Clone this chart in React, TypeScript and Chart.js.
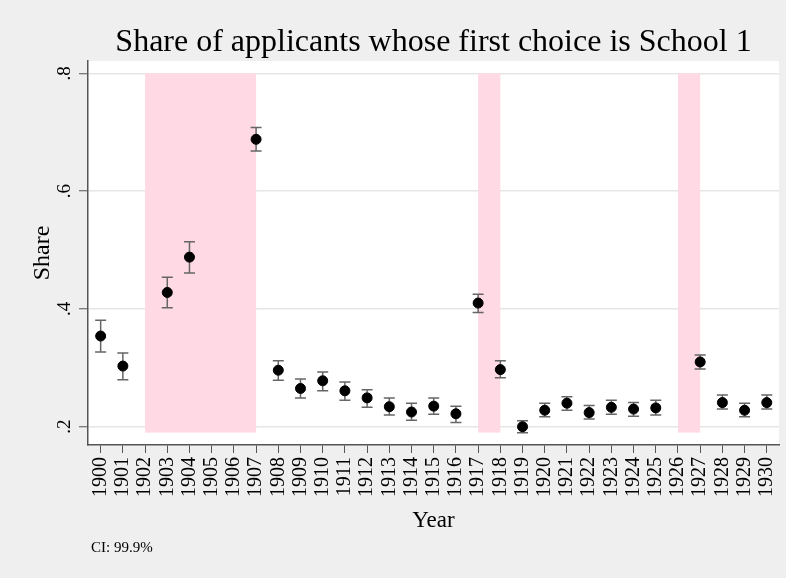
import React, { useEffect, useRef } from "react";
import { Chart, registerables } from "chart.js";

Chart.register(...registerables);

const years = [1900, 1901, 1903, 1904, 1907, 1908, 1909, 1910, 1911, 1912, 1913, 1914, 1915, 1916, 1917, 1918, 1919, 1920, 1921, 1922, 1923, 1924, 1925, 1927, 1928, 1929, 1930];
const shares = [0.354, 0.303, 0.428, 0.488, 0.688, 0.296, 0.265, 0.278, 0.261, 0.249, 0.234, 0.225, 0.235, 0.222, 0.410, 0.297, 0.200, 0.228, 0.240, 0.224, 0.233, 0.230, 0.232, 0.310, 0.241, 0.228, 0.241];
const ciLow = [0.327, 0.280, 0.402, 0.461, 0.668, 0.279, 0.249, 0.261, 0.245, 0.233, 0.220, 0.211, 0.221, 0.207, 0.394, 0.283, 0.190, 0.217, 0.228, 0.213, 0.221, 0.218, 0.220, 0.298, 0.230, 0.217, 0.230];
const ciHigh = [0.381, 0.325, 0.454, 0.514, 0.708, 0.312, 0.281, 0.293, 0.276, 0.263, 0.249, 0.240, 0.249, 0.235, 0.425, 0.312, 0.210, 0.240, 0.251, 0.236, 0.245, 0.241, 0.245, 0.322, 0.254, 0.240, 0.254];

const bandStarts = [1902, 1917, 1926];
const bandEnds = [1907, 1918, 1927];
const bandLow = 0.19;
const bandHigh = 0.8;

const xTicks = Array.from({ length: 31 }, (_, i) => 1900 + i);
const yTicks = [0.2, 0.4, 0.6, 0.8];

const titleText = "Share of applicants whose first choice is School 1";
const noteText = "CI: 99.9%";
const FONT = "'Liberation Serif', 'Times New Roman', serif";

export default function App() {
  const ref = useRef<HTMLCanvasElement | null>(null);

  useEffect(() => {
    document.body.style.margin = "0";
    document.body.style.background = "#efefef";
    const canvas = ref.current;
    if (!canvas) return;

    const decor = {
      id: "decor",
      beforeDraw(chart: any) {
        const { ctx, chartArea } = chart;
        ctx.save();
        ctx.fillStyle = "#efefef";
        ctx.fillRect(0, 0, chart.width, chart.height);
        ctx.fillStyle = "#ffffff";
        ctx.fillRect(chartArea.left, chartArea.top, chartArea.right - chartArea.left, chartArea.bottom - chartArea.top);
        ctx.restore();
      },
      beforeDatasetsDraw(chart: any) {
        const { ctx } = chart;
        const xs = chart.scales.x;
        const ys = chart.scales.y;
        ctx.save();
        ctx.fillStyle = "#ffd9e3";
        for (let i = 0; i < bandStarts.length; i++) {
          const x0 = xs.getPixelForValue(bandStarts[i]);
          const x1 = xs.getPixelForValue(bandEnds[i]);
          const y0 = ys.getPixelForValue(bandHigh);
          const y1 = ys.getPixelForValue(bandLow);
          ctx.fillRect(x0, y0, x1 - x0, y1 - y0);
        }
        ctx.strokeStyle = "#666666";
        ctx.lineWidth = 1.5;
        for (let i = 0; i < years.length; i++) {
          const x = xs.getPixelForValue(years[i]);
          const yl = ys.getPixelForValue(ciLow[i]);
          const yh = ys.getPixelForValue(ciHigh[i]);
          ctx.beginPath();
          ctx.moveTo(x, yl);
          ctx.lineTo(x, yh);
          ctx.moveTo(x - 5.5, yl);
          ctx.lineTo(x + 5.5, yl);
          ctx.moveTo(x - 5.5, yh);
          ctx.lineTo(x + 5.5, yh);
          ctx.stroke();
        }
        ctx.restore();
      },
      afterDraw(chart: any) {
        const { ctx, chartArea } = chart;
        ctx.save();
        ctx.fillStyle = "#000";
        ctx.textAlign = "center";
        ctx.textBaseline = "alphabetic";
        ctx.font = `32px ${FONT}`;
        ctx.fillText(titleText, (chartArea.left + chartArea.right) / 2, 51);
        ctx.textAlign = "left";
        ctx.font = `15px ${FONT}`;
        ctx.fillText(noteText, 91, 552);
        ctx.restore();
      },
    };

    const chart = new Chart(canvas, {
      type: "scatter",
      data: {
        datasets: [
          {
            data: years.map((y, i) => ({ x: y, y: shares[i] })),
            backgroundColor: "#000",
            borderColor: "#000",
            pointRadius: 5,
            pointHoverRadius: 5,
            showLine: false,
          },
        ],
      },
      options: {
        responsive: false,
        animation: false,
        events: [],
        layout: { padding: { left: 0, right: 7, top: 61, bottom: 0 } },
        plugins: {
          legend: { display: false },
          tooltip: { enabled: false },
          title: { display: false },
        },
        scales: {
          x: {
            type: "linear",
            min: 1899.43,
            max: 1930.55,
            afterBuildTicks: (s: any) => {
              s.ticks = xTicks.map((v) => ({ value: v }));
            },
            afterFit: (s: any) => {
              s.height = 133;
              s.paddingLeft = 0;
              s.paddingRight = 0;
            },
            grid: { drawOnChartArea: false, drawTicks: true, tickLength: 8, tickColor: "#555", tickWidth: 1 },
            border: { display: true, color: "#555", width: 1.5 },
            ticks: {
              autoSkip: false,
              minRotation: 90,
              maxRotation: 90,
              padding: 4,
              color: "#000",
              font: { family: FONT, size: 20 },
              callback: (v: any) => String(v),
            },
            title: {
              display: true,
              text: "Year",
              color: "#000",
              font: { family: FONT, size: 23 },
              padding: { top: 0, bottom: 43 },
            },
          },
          y: {
            type: "linear",
            min: 0.169,
            max: 0.821,
            afterBuildTicks: (s: any) => {
              s.ticks = yTicks.map((v) => ({ value: v }));
            },
            afterFit: (s: any) => {
              s.width = 88;
              s.paddingTop = 0;
              s.paddingBottom = 0;
            },
            grid: { drawOnChartArea: true, color: "#e6e6e6", lineWidth: 1.5, drawTicks: true, tickLength: 9, tickColor: "#555", tickWidth: 1 },
            border: { display: true, color: "#555", width: 1.5 },
            ticks: {
              minRotation: 90,
              maxRotation: 90,
              crossAlign: "center",
              padding: 7,
              color: "#000",
              font: { family: FONT, size: 19 },
              callback: (v: any) => Number(v).toFixed(1).replace(/^0/, ""),
            },
            title: {
              display: true,
              text: "Share",
              color: "#000",
              font: { family: FONT, size: 24 },
              padding: { top: 28, bottom: 0 },
            },
          },
        },
      },
      plugins: [decor],
    });

    return () => chart.destroy();
  }, []);

  return (
    <div style={{ width: 786, height: 578 }}>
      <canvas ref={ref} width={786} height={578} style={{ display: "block" }} />
    </div>
  );
}
